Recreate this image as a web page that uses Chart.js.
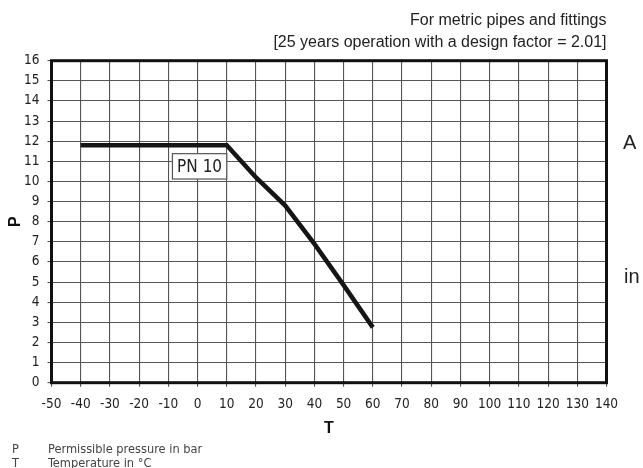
<!DOCTYPE html>
<html>
<head>
<meta charset="utf-8">
<script src="https://cdn.jsdelivr.net/npm/chart.js@4"></script>
<style>
  html, body { margin: 0; padding: 0; background: #fff; }
  #wrap { width: 643px; height: 468px; }
</style>
</head>
<body>
<div id="wrap"><canvas id="myChart"></canvas></div>
<script>
// datos de la curva PN 10 (temperatura en C, presion en bar)
var temperaturas = [-40, 10, 20, 30, 40, 50, 60];
var presiones = [11.8, 11.8, 10.2, 8.8, 6.9, 4.85, 2.75];
var tituloLineas = ['For metric pipes and fittings', '[25 years operation with a design factor = 2.01]'];
var notas = [['P', 'Permissible pressure in bar'], ['T', 'Temperature in \u00b0C']];
var etiquetaSerie = 'PN 10';

var fuenteEstrecha = '"Liberation Sans Narrow", "DejaVu Sans Condensed", "Roboto", sans-serif';

var puntos = [];
for (var i = 0; i < temperaturas.length; i++) {
    puntos.push({x: temperaturas[i], y: presiones[i]});
}

// marco grueso, caja PN 10, notas y textos laterales
var extras = {
    id: 'extras',
    afterDatasetsDraw: function(chart) {
        var c = chart.ctx;
        var xs = chart.scales.x, ys = chart.scales.y;
        // caja de la etiqueta PN 10
        var x0 = xs.getPixelForValue(-8.6), x1 = xs.getPixelForValue(10);
        var y0 = ys.getPixelForValue(11.38), y1 = ys.getPixelForValue(10.12);
        c.save();
        c.fillStyle = '#fff';
        c.fillRect(x0, y0, x1 - x0, y1 - y0);
        c.strokeStyle = '#555';
        c.lineWidth = 1.2;
        c.strokeRect(x0, y0, x1 - x0, y1 - y0);
        c.fillStyle = '#222';
        c.font = '17px ' + fuenteEstrecha;
        c.textAlign = 'center';
        c.textBaseline = 'middle';
        c.fillText(etiquetaSerie, (x0 + x1) / 2, (y0 + y1) / 2 + 1);
        c.restore();
    },
    afterDraw: function(chart) {
        var c = chart.ctx;
        var a = chart.chartArea;
        c.save();
        c.strokeStyle = '#111';
        c.lineWidth = 3;
        c.strokeRect(a.left, a.top, a.right - a.left, a.bottom - a.top);
        // notas al pie
        c.fillStyle = '#444';
        c.font = '12.7px ' + fuenteEstrecha;
        c.textBaseline = 'middle';
        for (var k = 0; k < notas.length; k++) {
            c.fillText(notas[k][0], 12, 450 + k * 14);
            c.fillText(notas[k][1], 48, 450 + k * 14);
        }
        // fragmentos de texto a la derecha
        c.fillStyle = '#222';
        c.font = '20px "Liberation Sans", Arial, sans-serif';
        c.fillText('A', 623, 143);
        c.fillText('in', 624, 277);
        c.restore();
    }
};

var ctx = document.getElementById('myChart').getContext('2d');
var myChart = new Chart(ctx, {
    type: 'line',
    data: {
        datasets: [{
            label: etiquetaSerie,
            data: puntos,
            borderColor: '#151515',
            borderWidth: 4.5,
            pointRadius: 0,
            tension: 0,
            fill: false
        }]
    },
    options: {
        responsive: true,
        maintainAspectRatio: false,
        animation: false,
        layout: { padding: { left: 0, right: 36.5, top: 0, bottom: 0 } },
        plugins: {
            legend: { display: false },
            tooltip: { enabled: false },
            title: {
                display: true,
                text: tituloLineas,
                align: 'end',
                color: '#222',
                font: { family: '"Liberation Sans", Arial, sans-serif', size: 16, weight: 'normal', lineHeight: 22 / 16 },
                padding: { top: 9.5, bottom: 7.2 }
            }
        },
        scales: {
            x: {
                type: 'linear',
                min: -50,
                max: 140,
                afterFit: function(scale) { scale.height = 85.3; },
                ticks: { stepSize: 10, color: '#222', padding: 10, maxRotation: 0, autoSkip: false,
                         font: { family: fuenteEstrecha, size: 13.5 } },
                grid: { color: '#555', lineWidth: 1.1, tickLength: 4 },
                border: { display: false },
                title: { display: true, text: 'T', color: '#111',
                         font: { family: '"Liberation Sans", Arial, sans-serif', size: 16, weight: 'bold' },
                         padding: { top: 0, bottom: 29.6 } }
            },
            y: {
                min: 0,
                max: 16,
                afterFit: function(scale) { scale.width = 51.5; },
                ticks: { stepSize: 1, color: '#222', padding: 8,
                         font: { family: fuenteEstrecha, size: 13.5 } },
                grid: { color: '#555', lineWidth: 1.1, tickLength: 4 },
                border: { display: false },
                title: { display: true, text: 'P', color: '#111',
                         font: { family: '"Liberation Sans", Arial, sans-serif', size: 16, weight: 'bold' },
                         padding: { top: 6.4, bottom: 0 } }
            }
        }
    },
    plugins: [extras]
});
</script>
</body>
</html>
